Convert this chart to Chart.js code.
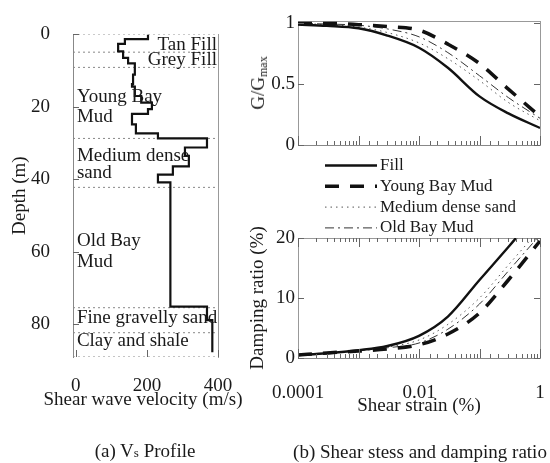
<!DOCTYPE html>
<html>
<head>
<meta charset="utf-8">
<script src="https://cdn.jsdelivr.net/npm/chart.js@4.4.0/dist/chart.umd.min.js"></script>
<style>
  body { margin: 0; background: #fff; }
  #wrap { position: relative; width: 550px; height: 463px; overflow: hidden;
          font-family: "Liberation Serif", "Times New Roman", serif; color: #1a1a1a; }
  canvas { position: absolute; }
  .txt { position: absolute; font-size: 19px; line-height: 22px; white-space: nowrap;
         transform: translate(-50%, -50%); }
  .rot { transform: translate(-50%, -50%) rotate(-90deg); }
  .sm { font-size: 13px; }
  .sub { font-size: 12px; position: relative; top: 3px; }
</style>
</head>
<body>
<div id="wrap">
  <canvas id="vs" width="250" height="415" style="left:0;top:0"></canvas>
  <canvas id="gmod" width="305" height="160" style="left:245px;top:0"></canvas>
  <canvas id="damp" width="305" height="275" style="left:245px;top:150px"></canvas>
  <div class="txt rot" style="left:259px;top:83px">G/G<span class="sub">max</span></div>
  <div class="txt" style="left:143px;top:399px">Shear wave velocity (m/s)</div>
  <div class="txt" style="left:145px;top:452px">(a) V<span class="sm">s</span> Profile</div>
  <div class="txt" style="left:420px;top:452px">(b) Shear stess and damping ratio</div>
</div>
<script>
// shear wave velocity profile: interval boundaries (m) and Vs in each interval (m/s)
const vsDepths = [0, 1.3, 2.6, 4.7, 6.5, 8.0, 11.1, 13.7, 14.4, 17.0, 18.8, 20.6, 21.9, 24.8, 27.3, 28.7, 31.2, 33.5, 36.4, 38.7, 40.8, 75.1, 78.8, 87.7];
const vsValues = [203, 138, 119, 133, 147, 166, 161, 158, 166, 184, 214, 203, 158, 169, 231, 369, 307, 318, 273, 231, 266, 369, 384];
const vsTicks = [0, 200, 400];
const depthTicks = [0, 20, 40, 60, 80];

// soil layers
const layerDepths = [0, 4.9, 9.1, 28.7, 42.2, 75.4, 82.3, 89];
const layerNames = ['Tan Fill', 'Grey Fill', 'Young Bay', 'Mud', 'Medium dense', 'sand', 'Old Bay', 'Mud', 'Fine gravelly sand', 'Clay and shale'];
const layerLabelAt = [[397, 2.8], [397, 7.2], [3, 17.3], [3, 22.7], [3, 33.5], [3, 38.2], [3, 57], [3, 62.7], [3, 78.2], [3, 84.6]];

// modulus reduction and damping curves
const soilNames = ['Fill', 'Young Bay Mud', 'Medium dense sand', 'Old Bay Mud'];
const strain = [0.0001, 0.0003, 0.001, 0.003, 0.01, 0.03, 0.1, 0.3, 1];
const strainFillDamp = [0.0001, 0.0003, 0.001, 0.003, 0.01, 0.03, 0.1, 0.3, 0.45];
const strainTickValues = [0.0001, 0.01, 1];
const strainTickLabels = ['0.0001', '0.01', '1'];

const gFill = [0.99, 0.98, 0.96, 0.90, 0.80, 0.635, 0.40, 0.26, 0.14];
const gYoungBayMud = [1.0, 1.0, 0.99, 0.975, 0.945, 0.83, 0.67, 0.46, 0.235];
const gSand = [1.0, 0.99, 0.97, 0.925, 0.84, 0.71, 0.53, 0.35, 0.20];
const gOldBayMud = [1.0, 0.995, 0.985, 0.955, 0.89, 0.76, 0.57, 0.39, 0.22];
const gTicks = [0, 0.5, 1];

const dFill = [0.5, 0.8, 1.3, 2.0, 3.7, 6.9, 13.0, 18.5, 20.6];
const dYoungBayMud = [0.5, 0.85, 1.15, 1.5, 2.2, 4.0, 7.5, 13.0, 19.5];
const dSand = [0.5, 0.8, 1.2, 1.8, 3.0, 5.6, 10.0, 15.5, 21.5];
const dOldBayMud = [0.5, 0.8, 1.2, 1.7, 2.5, 4.8, 9.0, 14.5, 20.5];
const dampTicks = [0, 10, 20];

const serif = '"Liberation Serif", "Times New Roman", serif';
Chart.defaults.font.family = serif;
Chart.defaults.color = '#1a1a1a';
Chart.defaults.animation = false;

const lineStyles = [
  { borderColor: '#111', borderWidth: 2.4, borderDash: [] },
  { borderColor: '#111', borderWidth: 3.5, borderDash: [14, 11] },
  { borderColor: '#555', borderWidth: 1, borderDash: [1.5, 4] },
  { borderColor: '#333', borderWidth: 1, borderDash: [9, 4, 2, 4] }
];

function curveSets(xs, series) {
  return series.map((ys, i) => ({
    label: soilNames[i],
    data: ys.map((v, j) => ({ x: xs[i][j], y: v })),
    showLine: true, pointRadius: 0, cubicInterpolationMode: 'monotone',
    ...lineStyles[i]
  }));
}

function fixTicks(values) {
  return ax => { ax.ticks = values.map(v => ({ value: v })); };
}

// invisible tick marks, used only to push the labels away from the axis line
const spacerGrid = (len) => ({
  display: true, drawOnChartArea: false, drawTicks: true, tickLength: len,
  color: 'rgba(0,0,0,0)', tickColor: 'rgba(0,0,0,0)'
});

// short tick marks pointing into the plot area
function innerTicks(marks) {
  return {
    id: 'innerTicks',
    afterDatasetsDraw(chart) {
      const { ctx, chartArea: a } = chart;
      ctx.save();
      ctx.strokeStyle = '#666';
      ctx.lineWidth = 1;
      ctx.beginPath();
      marks.forEach(m => {
        const s = chart.scales[m.scale];
        s.ticks.forEach(t => {
          const lg = Math.log10(t.value);
          const decade = Math.abs(lg - Math.round(lg)) < 1e-6;
          const len = (m.minor && !decade) ? m.minor : m.len;
          const p = Math.round(s.getPixelForValue(t.value)) + 0.5;
          m.sides.forEach(side => {
            if (side === 'bottom') { ctx.moveTo(p, a.bottom); ctx.lineTo(p, a.bottom - len); }
            if (side === 'top') { ctx.moveTo(p, a.top); ctx.lineTo(p, a.top + len); }
            if (side === 'left') { ctx.moveTo(a.left, p); ctx.lineTo(a.left + len, p); }
            if (side === 'right') { ctx.moveTo(a.right, p); ctx.lineTo(a.right - len, p); }
          });
        });
      });
      ctx.stroke();
      ctx.restore();
    }
  };
}

const layerText = {
  id: 'layerText',
  afterDatasetsDraw(chart) {
    const { ctx, scales: { x, y } } = chart;
    ctx.save();
    ctx.font = '19px ' + serif;
    ctx.fillStyle = '#1a1a1a';
    ctx.textBaseline = 'middle';
    layerNames.forEach((name, i) => {
      const [v, d] = layerLabelAt[i];
      ctx.textAlign = v > 200 ? 'right' : 'left';
      ctx.fillText(name, x.getPixelForValue(v), y.getPixelForValue(d));
    });
    ctx.restore();
  }
};

// legend drawn as a column above the damping plot
const columnLegend = {
  id: 'columnLegend',
  afterDraw(chart) {
    const ctx = chart.ctx;
    ctx.save();
    ctx.font = '17px ' + serif;
    ctx.fillStyle = '#1a1a1a';
    ctx.textBaseline = 'middle';
    chart.data.datasets.forEach((ds, i) => {
      const y = 15.5 + i * 20.8;
      ctx.beginPath();
      ctx.setLineDash(ds.borderDash);
      ctx.lineWidth = ds.borderWidth;
      ctx.strokeStyle = ds.borderColor;
      ctx.moveTo(80, y);
      ctx.lineTo(132, y);
      ctx.stroke();
      ctx.setLineDash([]);
      ctx.fillText(ds.label, 135, y);
    });
    ctx.restore();
  }
};

const frameAxis = (position) => ({
  position, type: 'linear', min: 0, max: 1, display: true,
  ticks: { display: false },
  grid: { display: false, drawTicks: false },
  border: { display: true, color: '#999' },
  afterFit: ax => { if (position === 'top') ax.height = 0; else ax.width = 0; }
});

function strainLabel(v) {
  const i = strainTickValues.findIndex(t => Math.abs(Math.log10(t) - Math.log10(v)) < 1e-6);
  return i < 0 ? '' : strainTickLabels[i];
}

// (a) Vs profile
const profilePoints = [];
vsValues.forEach((v, i) => {
  profilePoints.push({ x: v, y: vsDepths[i] }, { x: v, y: vsDepths[i + 1] });
});
const vsMin = -8, vsMax = 400;

new Chart(document.getElementById('vs'), {
  type: 'scatter',
  data: {
    datasets: [
      { label: 'Vs', data: profilePoints, showLine: true, borderColor: '#111', borderWidth: 2.2, pointRadius: 0 },
      ...layerDepths.map(d => ({
        data: [{ x: vsMin, y: d }, { x: vsMax, y: d }],
        showLine: true, borderColor: '#888', borderWidth: 1, borderDash: [2, 3], pointRadius: 0
      }))
    ]
  },
  options: {
    responsive: false,
    layout: { padding: { left: 0, top: 12, right: 32, bottom: 0 } },
    plugins: { legend: { display: false }, tooltip: { enabled: false } },
    scales: {
      x: {
        type: 'linear', min: vsMin, max: vsMax,
        afterBuildTicks: fixTicks(vsTicks),
        afterFit: ax => { ax.height = 58; },
        grid: spacerGrid(16),
        border: { display: false },
        ticks: { padding: 2, font: { size: 19 }, maxRotation: 0 }
      },
      y: {
        type: 'linear', reverse: true, min: 0, max: 89,
        afterBuildTicks: fixTicks(depthTicks),
        afterFit: ax => { ax.width = 73; },
        grid: { display: false, drawTicks: false },
        border: { display: true, color: '#888', dash: [2, 3] },
        ticks: { padding: 23, font: { size: 19 } },
        title: { display: true, text: 'Depth (m)', font: { size: 19 }, padding: { top: 8.6, bottom: 0 } }
      },
      yr: frameAxis('right')
    }
  },
  plugins: [layerText, innerTicks([
    { scale: 'y', sides: ['left'], len: 6 },
    { scale: 'x', sides: ['bottom'], len: 7 }
  ])]
});

// (b) upper: modulus reduction
new Chart(document.getElementById('gmod'), {
  type: 'scatter',
  data: { datasets: curveSets([strain, strain, strain, strain], [gFill, gYoungBayMud, gSand, gOldBayMud]) },
  options: {
    responsive: false,
    layout: { padding: { left: 0, top: 21, right: 10, bottom: 0 } },
    plugins: { legend: { display: false }, tooltip: { enabled: false } },
    scales: {
      x: {
        type: 'logarithmic', min: 0.0001, max: 1,
        afterFit: ax => { ax.height = 15; },
        ticks: { display: false },
        grid: { display: false, drawTicks: false },
        border: { display: true, color: '#888', dash: [2, 2] }
      },
      y: {
        type: 'linear', min: 0, max: 1.02,
        afterBuildTicks: fixTicks(gTicks),
        afterFit: ax => { ax.width = 53; },
        grid: { display: false, drawTicks: false },
        border: { display: true, color: '#999', dash: [3, 2] },
        ticks: { padding: 3, font: { size: 19 }, callback: v => String(v) }
      },
      x2: frameAxis('top'),
      y2: frameAxis('right')
    }
  },
  plugins: [innerTicks([
    { scale: 'x', sides: ['bottom'], len: 9, minor: 4 },
    { scale: 'y', sides: ['left', 'right'], len: 6 }
  ])]
});

// (b) lower: damping ratio
new Chart(document.getElementById('damp'), {
  type: 'scatter',
  data: { datasets: curveSets([strainFillDamp, strain, strain, strain], [dFill, dYoungBayMud, dSand, dOldBayMud]) },
  options: {
    responsive: false,
    layout: { padding: { left: 0, top: 88, right: 10, bottom: 0 } },
    plugins: { legend: { display: false }, tooltip: { enabled: false } },
    scales: {
      x: {
        type: 'logarithmic', min: 0.0001, max: 1,
        afterFit: ax => { ax.height = 67; },
        grid: spacerGrid(22),
        border: { display: true, color: '#888', dash: [2, 2] },
        ticks: { padding: 2, font: { size: 19 }, autoSkip: false, maxRotation: 0, minRotation: 0, callback: v => strainLabel(v) },
        title: { display: true, text: 'Shear strain (%)', font: { size: 19 }, padding: { top: 0, bottom: 7.6 } }
      },
      y: {
        type: 'linear', min: 0, max: 20,
        afterBuildTicks: fixTicks(dampTicks),
        afterFit: ax => { ax.width = 53; },
        grid: { display: false, drawTicks: false },
        border: { display: true, color: '#999', dash: [3, 2] },
        ticks: { padding: 3, font: { size: 19 } },
        title: { display: true, text: 'Damping ratio (%)', font: { size: 19 }, padding: { top: 1.6, bottom: 0 } }
      },
      x2: frameAxis('top'),
      y2: frameAxis('right')
    }
  },
  plugins: [columnLegend, innerTicks([
    { scale: 'x', sides: ['bottom', 'top'], len: 9, minor: 4 },
    { scale: 'y', sides: ['left', 'right'], len: 6 }
  ])]
});
</script>
</body>
</html>
